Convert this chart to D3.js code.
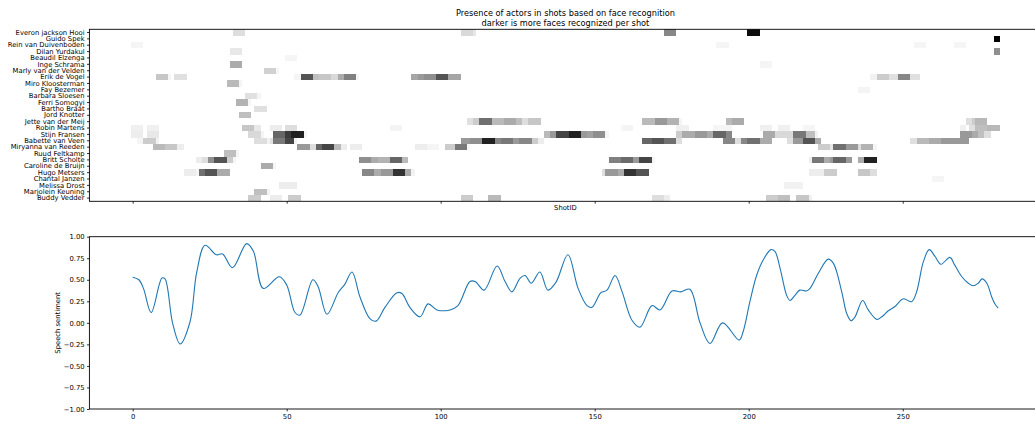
<!DOCTYPE html>
<html>
<head>
<meta charset="utf-8">
<script src="https://cdn.jsdelivr.net/npm/d3@7"></script>
<style>
  html, body { margin: 0; padding: 0; background: #fff; overflow: hidden; }
  svg { display: block; font-family: "DejaVu Sans", sans-serif; }
</style>
</head>
<body>
<svg id="chart" width="1035" height="426"></svg>
<script>
// ---------------- DATA ----------------
const titleLines = [
  "Presence of actors in shots based on face recognition",
  "darker is more faces recognized per shot"
];
const actors = [
  "Everon jackson Hooi", "Guido Spek", "Rein van Duivenboden", "Dilan Yurdakul",
  "Beaudil Elzenga", "Inge Schrama", "Marly van der Velden", "Erik de Vogel",
  "Miro Kloosterman", "Fay Bezemer", "Barbara Sloesen", "Ferri Somogyi",
  "Bartho Braat", "Jord Knotter", "Jette van der Meij", "Robin Martens",
  "Stijn Fransen", "Babette van Veen", "Miryanna van Reeden", "Ruud Feltkamp",
  "Britt Scholte", "Caroline de Bruijn", "Hugo Metsers", "Chantal Janzen",
  "Melissa Drost", "Marjolein Keuning", "Buddy Vedder"
];
// per actor: runs of [firstShot, lastShot, presence level 0..1 (darker = more faces)]
const presenceRuns = [
  [[33,36,.13],[107,110,.15],[111,111,.1],[173,176,.47],[200,203,.95]],
  [[280,281,1.0]],
  [[0,3,.04],[190,193,.04],[254,257,.04],[267,270,.04]],
  [[32,35,.09],[280,281,.44]],
  [[50,53,.04]],
  [[32,35,.33],[204,207,.04]],
  [[43,46,.18],[47,47,.04]],
  [[8,11,.22],[12,12,.04],[14,17,.12],[53,54,.04],[55,58,.67],[59,60,.25],[61,64,.22],
   [65,66,.15],[67,68,.33],[69,72,.5],[73,73,.04],[91,92,.35],[93,94,.4],[95,98,.44],
   [99,102,.67],[103,106,.35],[240,241,.05],[242,245,.2],[246,248,.12],[249,252,.47],[253,255,.12]],
  [[31,34,.27],[35,35,.04]],
  [[236,239,.04]],
  [[37,40,.12],[41,41,.04]],
  [[34,37,.3],[38,38,.04]],
  [[40,43,.12]],
  [[35,38,.25]],
  [[109,110,.12],[111,112,.2],[113,116,.56],[117,120,.27],[121,124,.33],[125,126,.25],
   [127,128,.13],[129,132,.22],[166,169,.27],[170,173,.4],[174,177,.3],[178,178,.04],
   [193,194,.27],[195,198,.33],[271,272,.13],[273,273,.2],[274,277,.28]],
  [[0,3,.06],[5,8,.06],[36,39,.22],[40,41,.09],[45,48,.07],[50,53,.13],[84,87,.04],
   [159,162,.04],[177,180,.06],[189,194,.04],[204,207,.06],[210,213,.06],[218,221,.04],
   [269,270,.06],[272,273,.12],[274,277,.25],[278,281,.28]],
  [[0,3,.07],[5,8,.09],[38,41,.15],[42,42,.04],[46,49,.6],[50,51,.77],[52,55,.87],[56,56,.04],
   [134,135,.27],[136,137,.4],[138,141,.73],[142,145,.87],[146,147,.4],[148,149,.37],
   [150,153,.44],[154,154,.04],[177,178,.2],[179,182,.33],[183,186,.4],[187,188,.33],
   [189,192,.6],[193,194,.47],[205,208,.33],[209,214,.15],[215,218,.53],[219,221,.25],
   [222,222,.05],[269,272,.4],[273,274,.33],[275,276,.25],[277,278,.13]],
  [[2,3,.04],[4,7,.2],[8,8,.05],[40,43,.13],[44,44,.05],[45,45,.12],[46,49,.53],[50,52,.73],
   [53,53,.05],[107,109,.4],[110,113,.44],[114,117,.87],[118,119,.47],[120,123,.53],
   [124,125,.4],[126,129,.47],[130,131,.2],[132,133,.07],[166,168,.6],[169,172,.67],
   [173,176,.56],[177,178,.13],[192,195,.47],[196,197,.13],[198,199,.47],[200,203,.56],
   [204,207,.33],[213,214,.13],[215,217,.4],[218,221,.67],[222,223,.33],[253,254,.12],
   [255,258,.27],[259,262,.33],[263,271,.4]],
  [[7,10,.27],[11,14,.22],[15,16,.07],[54,57,.4],[58,59,.13],[60,61,.6],[62,65,.73],
   [66,67,.27],[68,69,.07],[71,74,.07],[92,95,.07],[96,99,.04],[102,104,.2],[105,108,.53],
   [109,109,.04],[223,226,.2],[227,227,.1],[228,231,.56],[232,235,.4],[236,236,.13],
   [237,240,.3],[241,241,.04]],
  [[30,33,.25],[34,34,.04]],
  [[21,22,.07],[23,24,.13],[25,26,.44],[27,30,.67],[31,32,.2],[33,33,.04],[74,77,.44],
   [78,79,.33],[80,83,.3],[84,87,.6],[88,89,.27],[155,158,.5],[159,162,.58],[163,164,.4],
   [165,168,.73],[169,169,.04],[220,220,.07],[221,224,.53],[225,226,.33],[227,227,.4],
   [228,231,.6],[232,233,.4],[236,237,.33],[238,241,.87]],
  [[42,45,.33],[46,46,.04]],
  [[17,20,.07],[21,21,.04],[22,23,.56],[24,27,.67],[28,31,.33],[75,78,.47],[79,80,.33],
   [81,84,.4],[85,88,.8],[89,90,.33],[91,91,.05],[153,153,.13],[154,157,.4],[158,159,.33],
   [160,163,.8],[164,167,.67],[220,224,.07],[225,228,.2],[236,239,.22],[240,241,.13]],
  [[260,263,.04]],
  [[48,53,.07],[212,217,.05]],
  [[40,43,.25],[44,44,.05]],
  [[38,41,.2],[45,48,.07],[51,54,.2],[107,110,.2],[116,119,.27],[169,172,.13],[173,174,.07],
   [206,209,.2],[210,213,.25],[216,219,.22],[220,220,.06]]
];
const shotTicks = [0, 50, 100, 150, 200, 250];
const sentimentTicks = [-1, -0.75, -0.5, -0.25, 0, 0.25, 0.5, 0.75, 1];
const sentShot = [0,2,3.5,6,9.5,10.5,13,15.4,18.6,20.8,23.5,27.2,29.2,32.4,37,39.2,42.4,47.6,50,52.7,
  54.3,58.5,60.2,63.1,66.7,68.9,71.2,73.8,77,79,81.9,85.8,87.4,90,93.3,95.9,98.8,103,105.6,109.5,
  111.2,114.1,118.3,120.9,123.1,125.8,127.4,129.4,132.2,134.8,137.4,141.3,144.6,147.5,149.1,152,154,
  156.6,158.9,162.1,164.7,168.6,171.2,175.1,178,180.9,184.2,187.4,191.5,196.9,198.2,200.4,202.6,
  204.7,207.2,208.5,210.2,212.3,213.4,215,216.6,218.8,219.9,222.6,225.8,227.5,230.2,231.8,233.2,
  234.5,237,238.8,241.6,243.2,245.3,247.5,250.2,252.9,254.5,256.7,258.6,260.5,262.4,265.3,266.9,
  269.2,271.3,272.9,274.5,275.8,277.3,278.9,280,281];
const sentValue = [0.53,0.50,0.40,0.12,0.52,0.51,-0.01,-0.245,0.01,0.59,0.90,0.79,0.80,0.64,0.92,0.83,
  0.40,0.535,0.44,0.12,0.09,0.50,0.42,0.10,0.35,0.45,0.59,0.30,0.05,0.02,0.18,0.35,0.34,0.18,0.07,
  0.22,0.15,0.15,0.20,0.48,0.48,0.38,0.66,0.48,0.36,0.52,0.55,0.46,0.59,0.38,0.47,0.79,0.40,0.20,
  0.18,0.35,0.38,0.55,0.36,0.03,-0.05,0.20,0.15,0.37,0.36,0.39,0.0,-0.24,0.0,-0.20,-0.10,0.25,
  0.555,0.73,0.85,0.83,0.63,0.32,0.26,0.32,0.38,0.37,0.40,0.575,0.74,0.69,0.36,0.11,0.025,0.07,
  0.26,0.15,0.04,0.07,0.14,0.19,0.28,0.245,0.36,0.71,0.85,0.77,0.68,0.76,0.67,0.535,0.46,0.43,
  0.46,0.51,0.46,0.30,0.215,0.17];

// ---------------- LAYOUT ----------------
const svg = d3.select("#chart");
svg.append("rect").attr("width", 1035).attr("height", 426).attr("fill", "#fff");

const L = 89.4, R = 1041.5;
const top1 = 29.3, bot1 = 201.3;
const top2 = 236.7, bot2 = 409;
const FS = 6.8, TICK = 2.4, PAD = 2.4;

const x = d3.scaleLinear().domain([-14.05, 295.05]).range([L, R]);
const yRow = d3.scaleBand().domain(actors).range([top1, bot1]).padding(0);
const ySent = d3.scaleLinear().domain([-1, 1]).range([bot2, top2]);
const gray = d3.scaleLinear().domain([0, 1]).range(["#ffffff", "#000000"]);

function styleAxis(g) {
  g.select(".domain").remove();
  g.selectAll(".tick line").attr("stroke", "#000").attr("stroke-width", 0.8);
  g.selectAll(".tick text").attr("font-size", FS).attr("fill", "#000")
    .attr("font-family", "DejaVu Sans, sans-serif");
}

// ---------- Top: heatmap ----------
const clip1 = svg.append("clipPath").attr("id", "c1").append("rect")
  .attr("x", L).attr("y", top1).attr("width", R - L).attr("height", bot1 - top1);

const heat = svg.append("g").attr("clip-path", "url(#c1)");
actors.forEach((name, i) => {
  heat.selectAll(null).data(presenceRuns[i]).enter().append("rect")
    .attr("x", d => x(d[0] - 0.5))
    .attr("width", d => x(d[1] + 0.5) - x(d[0] - 0.5))
    .attr("y", yRow(name))
    .attr("height", yRow.bandwidth())
    .attr("fill", d => gray(d[2]))
    .attr("shape-rendering", "crispEdges");
});

svg.append("g").attr("transform", `translate(${L},0)`)
  .call(d3.axisLeft(yRow).tickSize(TICK).tickPadding(PAD)).call(styleAxis);
svg.append("g").attr("transform", `translate(0,${bot1})`)
  .call(d3.axisBottom(x).tickValues(shotTicks).tickSize(TICK).tickFormat(""))
  .call(styleAxis);

svg.append("rect").attr("x", L).attr("y", top1).attr("width", R - L).attr("height", bot1 - top1)
  .attr("fill", "none").attr("stroke", "#000").attr("stroke-width", 0.9);

svg.append("text").attr("x", (L + R) / 2).attr("y", 210.3).attr("text-anchor", "middle")
  .attr("font-size", FS).text("ShotID");

svg.selectAll(".title").data(titleLines).enter().append("text")
  .attr("x", (L + R) / 2).attr("y", (d, i) => 16.3 + i * 9.3)
  .attr("text-anchor", "middle").attr("font-size", 8.2).text(d => d);

// ---------- Bottom: sentiment line ----------
svg.append("g").attr("transform", `translate(${L},0)`)
  .call(d3.axisLeft(ySent).tickValues(sentimentTicks).tickFormat(d3.format(".2f"))
    .tickSize(TICK).tickPadding(PAD)).call(styleAxis);
svg.append("g").attr("transform", `translate(0,${bot2})`)
  .call(d3.axisBottom(x).tickValues(shotTicks).tickFormat(d3.format("d"))
    .tickSize(TICK).tickPadding(PAD)).call(styleAxis);

const line = d3.line()
  .x((d, i) => x(sentShot[i]))
  .y(d => ySent(d))
  .curve(d3.curveCatmullRom.alpha(0.5));
svg.append("path").datum(sentValue).attr("d", line)
  .attr("fill", "none").attr("stroke", "#1f77b4").attr("stroke-width", 1.1);

svg.append("rect").attr("x", L).attr("y", top2).attr("width", R - L).attr("height", bot2 - top2)
  .attr("fill", "none").attr("stroke", "#000").attr("stroke-width", 0.9);

svg.append("text")
  .attr("transform", `translate(59.8,${(top2 + bot2) / 2}) rotate(-90)`)
  .attr("text-anchor", "middle").attr("font-size", FS).text("Speech sentiment");
</script>
</body>
</html>
